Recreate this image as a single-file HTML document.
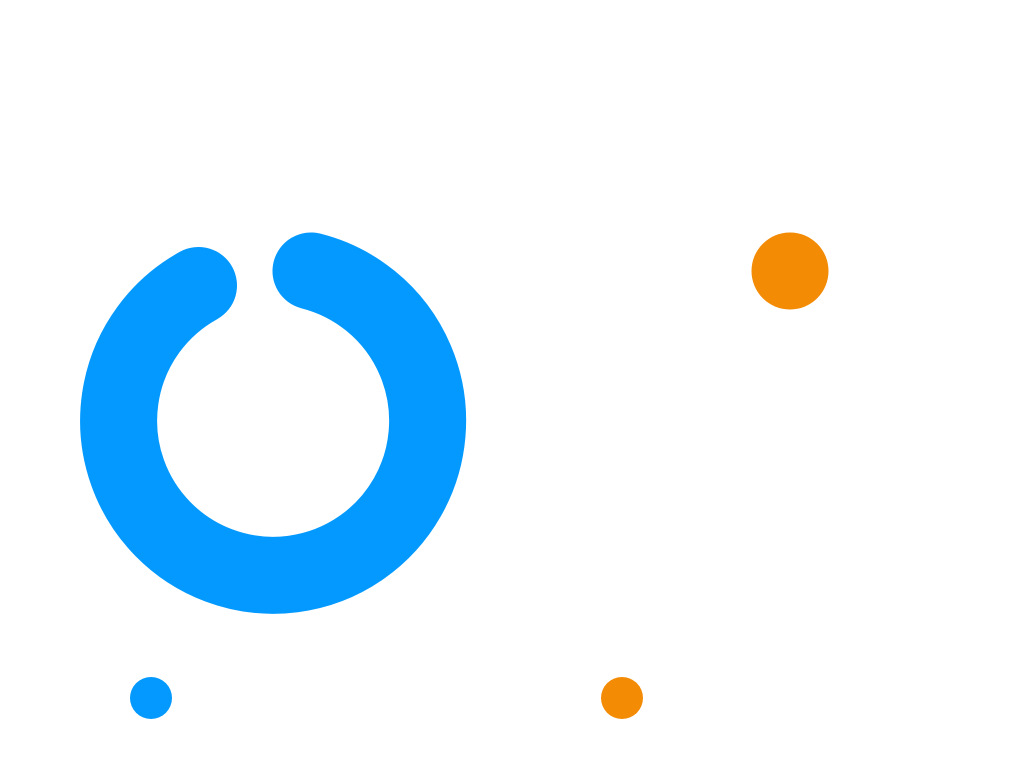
<!DOCTYPE html>
<html><head><meta charset="utf-8"><style>html,body{margin:0;padding:0;background:#fff;}svg{display:block}</style></head>
<body>
<svg width="1024" height="768" viewBox="0 0 1024 768" xmlns="http://www.w3.org/2000/svg">
<path d="M311.0 271.0 A154.5 154.5 0 1 1 198.5 285.5" fill="none" stroke="#0399ff" stroke-width="77" stroke-linecap="round"/>
<circle cx="790" cy="271" r="38.5" fill="#f38b04"/>
<circle cx="151" cy="698" r="21" fill="#0399ff"/>
<circle cx="622" cy="698" r="21" fill="#f38b04"/>
</svg>
</body></html>
